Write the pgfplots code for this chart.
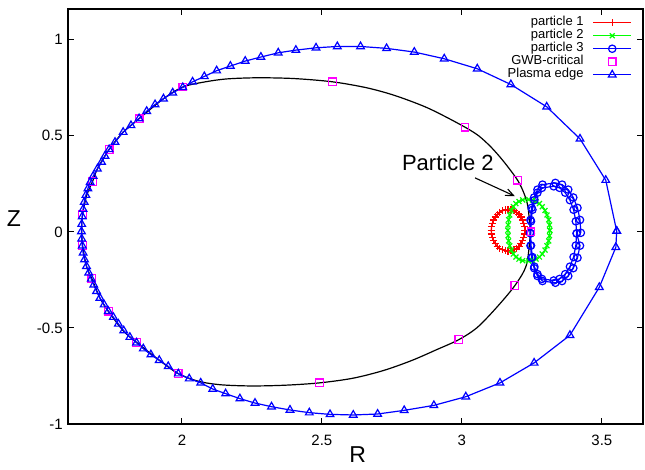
\documentclass[border=0pt]{standalone}
\usepackage{fontspec}
\setmainfont{Liberation Sans}
\usepackage{pgfplots}
\pgfplotsset{compat=1.18}
\usetikzlibrary{arrows.meta}
\definecolor{gpred}{RGB}{255,0,0}
\definecolor{gpgreen}{RGB}{0,255,0}
\definecolor{gpblue}{RGB}{0,0,255}
\definecolor{gpmag}{RGB}{255,0,255}
\begin{document}
\begin{tikzpicture}
\useasboundingbox (0,0) rectangle (645pt,469pt);
\begin{axis}[
 at={(68pt,45pt)}, anchor=south west,
 scale only axis, width=575pt, height=415pt,
 xmin=1.593, xmax=3.647, ymin=-1, ymax=1.16,
 xtick={2,2.5,3,3.5}, xticklabels={2,2.5,3,3.5},
 ytick={-1,-0.5,0,0.5,1}, yticklabels={-1,-0.5,0,0.5,1},
 tick align=inside, major tick length=6pt,
 axis line style={line width=1.4pt},
 every tick/.style={line width=1.1pt, black},
 xticklabel style={font=\fontsize{15}{15}\selectfont, anchor=base, inner sep=0pt, yshift=-21.5pt},
 yticklabel style={font=\fontsize{15}{15}\selectfont, anchor=east, inner sep=0pt, xshift=-5pt},
 xlabel={R}, ylabel={Z},
 xlabel style={font=\fontsize{23}{23}\selectfont, at={(axis description cs:0.504,-0.0747)}, anchor=center},
 ylabel style={font=\fontsize{23}{23}\selectfont, at={(axis description cs:-0.0939,0.496)}, anchor=center, rotate=-90},
 legend style={at={(axis description cs:0.981,0.983)}, anchor=north east, draw=none, fill=none, inner sep=0pt,
   font=\fontsize{13}{13}\selectfont, column sep=9pt,
   nodes={inner sep=0pt, text height=9.5pt, text depth=3.5pt}},
 legend cell align=right, legend plot pos=right,
 legend image code/.code={\draw[mark repeat=2,mark phase=2,#1] plot coordinates {(0pt,0pt) (19pt,0pt) (38pt,0pt)};},
]
% black boundary curve
\addplot[black, line width=1.2pt, smooth, forget plot] coordinates {
(3.245,0.000) (3.236,0.130) (3.222,0.200) (3.199,0.269) (3.150,0.365) (3.105,0.440)
(3.060,0.500) (3.011,0.545) (2.930,0.608) (2.862,0.655) (2.760,0.710) (2.660,0.750)
(2.538,0.781) (2.400,0.798) (2.270,0.802) (2.160,0.796) (2.080,0.780) (2.003,0.754)
(1.934,0.693) (1.847,0.589) (1.790,0.519) (1.740,0.429) (1.698,0.328) (1.681,0.263)
(1.660,0.191) (1.645,0.090) (1.642,0.010) (1.645,-0.070) (1.659,-0.179) (1.678,-0.243)
(1.707,-0.344) (1.737,-0.413) (1.790,-0.514) (1.838,-0.575) (1.919,-0.668) (1.987,-0.738)
(2.060,-0.778) (2.140,-0.796) (2.250,-0.802) (2.370,-0.798) (2.491,-0.786) (2.610,-0.762)
(2.719,-0.722) (2.820,-0.670) (2.910,-0.613) (2.989,-0.561) (3.053,-0.500) (3.120,-0.400)
(3.189,-0.280) (3.231,-0.170) (3.245,0.000)};
% particle 1
\addplot[gpred, line width=1.3pt, mark=+, mark size=3.6pt] coordinates {
(3.225,0.008) (3.224,0.027) (3.221,0.045) (3.217,0.062) (3.211,0.077) (3.204,0.091)
(3.195,0.102) (3.186,0.110) (3.175,0.114) (3.165,0.116) (3.155,0.114) (3.144,0.110)
(3.135,0.102) (3.126,0.091) (3.119,0.077) (3.113,0.062) (3.109,0.045) (3.106,0.027)
(3.105,0.008) (3.106,-0.011) (3.109,-0.029) (3.113,-0.046) (3.119,-0.061) (3.126,-0.075)
(3.135,-0.086) (3.144,-0.093) (3.155,-0.098) (3.165,-0.100) (3.175,-0.098) (3.186,-0.093)
(3.195,-0.086) (3.204,-0.075) (3.211,-0.061) (3.217,-0.046) (3.221,-0.029) (3.224,-0.011)
(3.225,0.008)};
\addlegendentry{particle 1}
% particle 2
\addplot[gpgreen, line width=1.2pt, mark=x, mark size=3.5pt] coordinates {
(3.314,0.008) (3.313,0.036) (3.310,0.063) (3.304,0.088) (3.297,0.111) (3.287,0.131)
(3.277,0.147) (3.265,0.158) (3.252,0.166) (3.239,0.168) (3.217,0.166) (3.204,0.158)
(3.193,0.147) (3.184,0.131) (3.177,0.111) (3.171,0.088) (3.167,0.063) (3.165,0.036)
(3.164,0.008) (3.165,-0.020) (3.167,-0.047) (3.171,-0.072) (3.177,-0.095) (3.184,-0.115)
(3.193,-0.131) (3.204,-0.142) (3.217,-0.150) (3.239,-0.152) (3.252,-0.150) (3.265,-0.142)
(3.277,-0.131) (3.287,-0.115) (3.297,-0.095) (3.304,-0.072) (3.310,-0.047) (3.313,-0.020)
(3.314,0.008)};
\addlegendentry{particle 2}
% particle 3
\addplot[gpblue, line width=1.2pt, mark=o, mark size=3.7pt] coordinates {
(3.425,-0.005) (3.422,0.062) (3.413,0.125) (3.398,0.179) (3.380,0.220) (3.358,0.246)
(3.334,0.255) (3.288,0.246) (3.270,0.220) (3.258,0.179) (3.249,0.125) (3.245,0.062)
(3.243,-0.005) (3.245,-0.072) (3.249,-0.135) (3.258,-0.189) (3.270,-0.230) (3.288,-0.256)
(3.334,-0.265) (3.358,-0.256) (3.380,-0.230) (3.398,-0.189) (3.413,-0.135) (3.422,-0.072)
(3.410,-0.008) (3.407,0.055) (3.399,0.115) (3.386,0.165) (3.369,0.204) (3.349,0.229)
(3.328,0.237) (3.286,0.229) (3.270,0.204) (3.259,0.165) (3.252,0.115) (3.247,0.055)
(3.246,-0.008) (3.247,-0.071) (3.252,-0.131) (3.259,-0.181) (3.270,-0.220) (3.286,-0.245)
(3.328,-0.253) (3.349,-0.245) (3.369,-0.220) (3.386,-0.181) (3.399,-0.131) (3.407,-0.071)
(3.410,-0.008)};
\addlegendentry{particle 3}
% GWB-critical
\addplot[gpmag, only marks, line width=1.2pt, mark=square, mark size=3.8pt] coordinates {
(1.645,0.090) (1.645,-0.070) (1.681,0.263) (1.678,-0.243) (1.740,0.429) (1.737,-0.413)
(1.847,0.589) (1.838,-0.575) (2.003,0.754) (1.987,-0.738) (2.538,0.781) (2.491,-0.786)
(3.011,0.545) (2.989,-0.561) (3.199,0.269) (3.189,-0.280) (3.247,0.000)};
\addlegendentry{GWB-critical}
% Plasma edge
\addplot[gpblue, line width=1.2pt, mark=triangle, mark size=4.4pt] coordinates {
(3.553,0.004) (3.514,0.269) (3.422,0.484) (3.303,0.651) (3.175,0.767) (3.055,0.849)
(2.937,0.901) (2.830,0.936) (2.731,0.955) (2.638,0.965) (2.555,0.965) (2.479,0.958)
(2.407,0.946) (2.344,0.932) (2.282,0.910) (2.226,0.889) (2.173,0.863) (2.124,0.839)
(2.080,0.809) (2.038,0.781) (2.003,0.752) (1.967,0.724) (1.934,0.693) (1.904,0.663)
(1.874,0.628) (1.847,0.590) (1.818,0.554) (1.790,0.519) (1.761,0.467) (1.740,0.429)
(1.725,0.395) (1.713,0.363) (1.698,0.328) (1.683,0.290) (1.672,0.258) (1.664,0.225)
(1.657,0.191) (1.651,0.155) (1.647,0.118) (1.644,0.080) (1.642,0.040) (1.641,0.002)
(1.642,-0.036) (1.644,-0.072) (1.647,-0.109) (1.652,-0.144) (1.659,-0.179) (1.667,-0.213)
(1.676,-0.245) (1.685,-0.276) (1.695,-0.309) (1.707,-0.344) (1.722,-0.379) (1.737,-0.413)
(1.755,-0.444) (1.773,-0.479) (1.792,-0.514) (1.814,-0.548) (1.838,-0.577) (1.862,-0.608)
(1.889,-0.639) (1.919,-0.668) (1.951,-0.700) (1.987,-0.738) (2.026,-0.764) (2.067,-0.786)
(2.110,-0.818) (2.156,-0.842) (2.207,-0.868) (2.261,-0.891) (2.320,-0.910) (2.386,-0.927)
(2.455,-0.941) (2.529,-0.950) (2.612,-0.953) (2.699,-0.948) (2.794,-0.929) (2.900,-0.903)
(3.014,-0.858) (3.136,-0.786) (3.258,-0.682) (3.386,-0.538) (3.491,-0.288) (3.550,-0.080)
(3.553,0.004)};
\addlegendentry{Plasma edge}
\node[font=\fontsize{22}{22}\selectfont, inner sep=0pt] at (axis cs:2.950,0.361) {Particle 2};
\draw[line width=1.1pt, -{Straight Barb[length=8pt,width=7pt]}] (axis cs:3.047,0.281) -- (axis cs:3.189,0.186);
\end{axis}
\end{tikzpicture}
\end{document}
